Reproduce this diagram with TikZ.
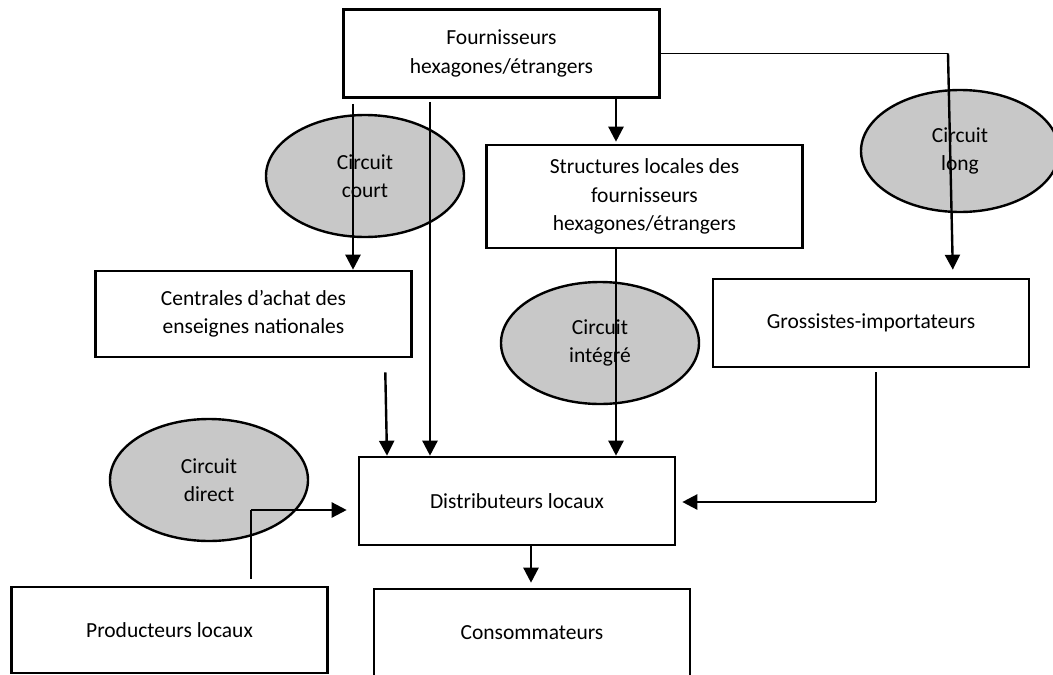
\documentclass[tikz,border=0pt]{standalone}
\usepackage{xcolor}
\usepackage{fontspec}
\setmainfont{Carlito}
\usepackage{tikz}
\usetikzlibrary{shapes.geometric,arrows.meta}
\definecolor{circuitgray}{RGB}{200,200,200}

\begin{document}
\begin{tikzpicture}[x=1pt,y=-1pt,
  box/.style={draw, line width=2.6pt, fill=white, align=center, inner sep=0pt,
    minimum width=316pt, minimum height=88pt, font=\fontsize{21.5}{28.5}\selectfont},
  circuit/.style={draw, ellipse, line width=2.4pt, fill=circuitgray, align=center, inner sep=0pt,
    minimum width=198pt, minimum height=122pt, font=\fontsize{21.5}{28.5}\selectfont},
  arr/.style={line width=2.4pt, -{Triangle[length=15pt,width=15pt]}},
  thinline/.style={line width=1.4pt}]
\clip (0,0) rectangle (1053,675);

\node[box] (four) at (501.5,53.5) {Fournisseurs\\hexagones/étrangers};
\node[box, minimum height=103pt] (struct) at (644.5,196.5) {Structures locales des\\fournisseurs\\hexagones/étrangers};
\node[box, minimum height=86pt] (centr) at (253.5,314) {Centrales d’achat des\\enseignes nationales};
\node[box] (gross) at (871,323) {Grossistes-importateurs};
\node[box] (distr) at (517,501) {Distributeurs locaux};
\node[box, minimum height=86pt] (prod) at (169.5,630) {Producteurs locaux};
\node[box, minimum height=100pt, text depth=12pt] (conso) at (532,639) {Consommateurs};

\node[circuit] (court) at (365,176) {Circuit\\court};
\node[circuit] (long) at (960,151) {Circuit\\long};
\node[circuit] (integre) at (600,343) {Circuit\\intégré};
\node[circuit] (direct) at (209,480) {Circuit\\direct};

\coordinate (longturn) at (948,53.5);
\coordinate (grossturn) at (876,502);
\coordinate (prodturn) at (251,510);

\draw[arr, shorten <=5pt] (353,0 |- four.south) -- (353,0 |- centr.north);
\draw[arr, shorten <=3pt] (430,0 |- four.south) -- (430,0 |- distr.north);
\draw[arr, shorten >=2pt] (616,0 |- four.south) -- (616,0 |- struct.north);
\draw[thinline] (four.east) -- (longturn);
\draw[arr, shorten >=8pt] (longturn) -- (953,0 |- gross.north);
\draw[arr] (616,0 |- struct.south) -- (616,0 |- distr.north);
\draw[arr, shorten <=14pt] (385,0 |- centr.south) -- (387,0 |- distr.north);
\draw[thinline, shorten <=4pt] (876,0 |- gross.south) -- (grossturn);
\draw[arr, shorten >=6pt] (grossturn) -- (grossturn -| distr.east);
\draw[thinline, shorten <=7pt] (251,0 |- prod.north) -- (prodturn);
\draw[arr, shorten >=11pt] (prodturn) -- (prodturn -| distr.west);
\draw[arr, shorten >=5pt] (531,0 |- distr.south) -- (531,0 |- conso.north);
\end{tikzpicture}
\end{document}
